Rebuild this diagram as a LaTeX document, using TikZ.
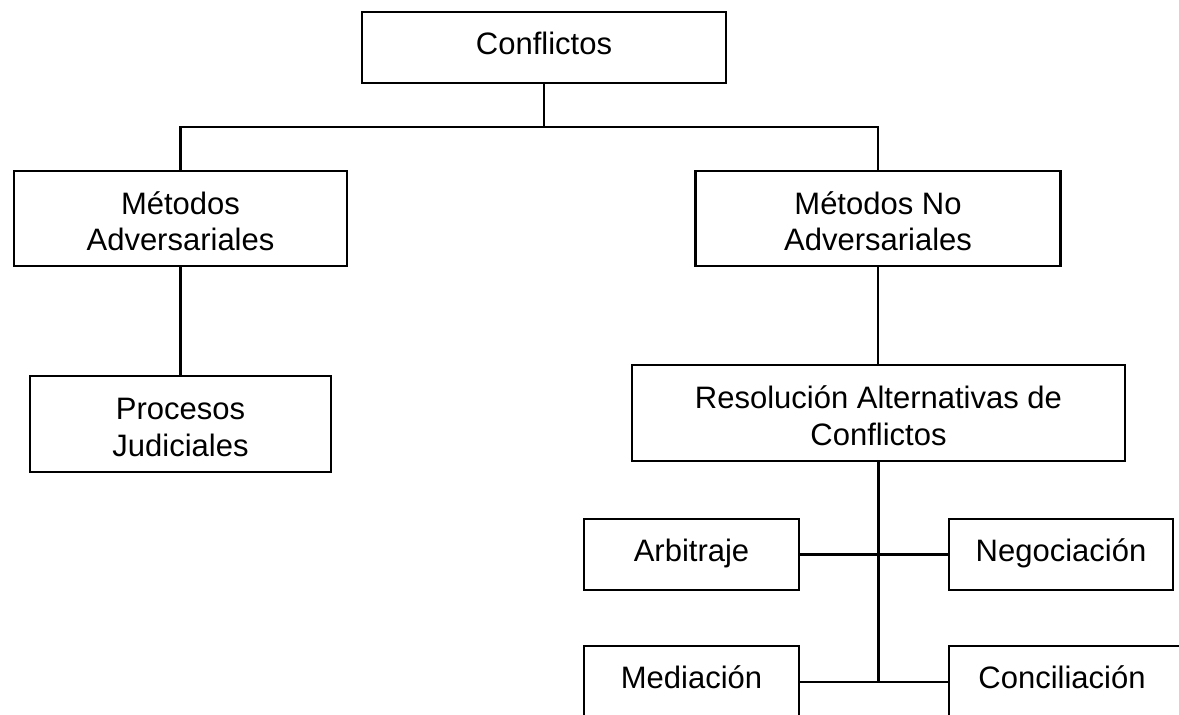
\documentclass[tikz,border=0pt]{standalone}
\usepackage{fontspec}
\setmainfont{Liberation Sans}
\newcommand{\firststrut}{\rule{0pt}{28.5pt}}
\begin{document}
\begin{tikzpicture}[x=1pt,y=-1pt,
  box/.style={draw, line width=2.4pt, inner sep=0pt, align=center,
              font=\fontsize{31}{36.5}\selectfont},
  one/.style={box, minimum height=71pt, text height=22pt, text depth=9pt},
  two/.style={box, minimum height=95pt},
  wire/.style={line width=2.4pt}]
\useasboundingbox (0,0) rectangle (1179,715);
\clip (0,0) rectangle (1179,715);
\fill[white] (0,0) rectangle (1179,715);

\node[one, minimum width=364pt] (conf) at (544,47.5) {Conflictos};
\node[two, minimum width=333pt] (ma) at (180.5,218.5) {\firststrut Métodos\\Adversariales};
\node[two, minimum width=365pt] (mna) at (878,218.5) {\firststrut Métodos No\\Adversariales};
\node[two, minimum width=301pt, minimum height=96pt] (pj) at (180.5,424) {\firststrut Procesos\\Judiciales};
\node[two, minimum width=493pt, minimum height=96pt] (rac) at (878.5,413) {\firststrut Resolución Alternativas de\\Conflictos};
\node[one, minimum width=215pt] (arb) at (691.5,554.5) {Arbitraje};
\node[one, minimum width=224pt] (neg) at (1061,554.5) {Negociación};
\node[one, minimum width=215pt, minimum height=72pt] (med) at (691.5,682) {Mediación};
\node[one, minimum width=236pt, minimum height=72pt] (conc) at (1067,682) {Conciliación\hspace*{10pt}};

\coordinate (j1) at (544,127);
\draw[wire] (conf.south) -- (j1);
\draw[wire] (ma.north) |- (j1) -| (mna.north);
\draw[wire] (ma.south) -- (pj.north);
\draw[wire] (mna.south) -- (mna.south |- rac.north);
\coordinate (j2) at (rac.south |- med.east);
\draw[wire] (rac.south) -- (j2);
\draw[wire] (arb.east) -- (neg.west);
\draw[wire] (med.east) -- (conc.west);
\end{tikzpicture}
\end{document}
